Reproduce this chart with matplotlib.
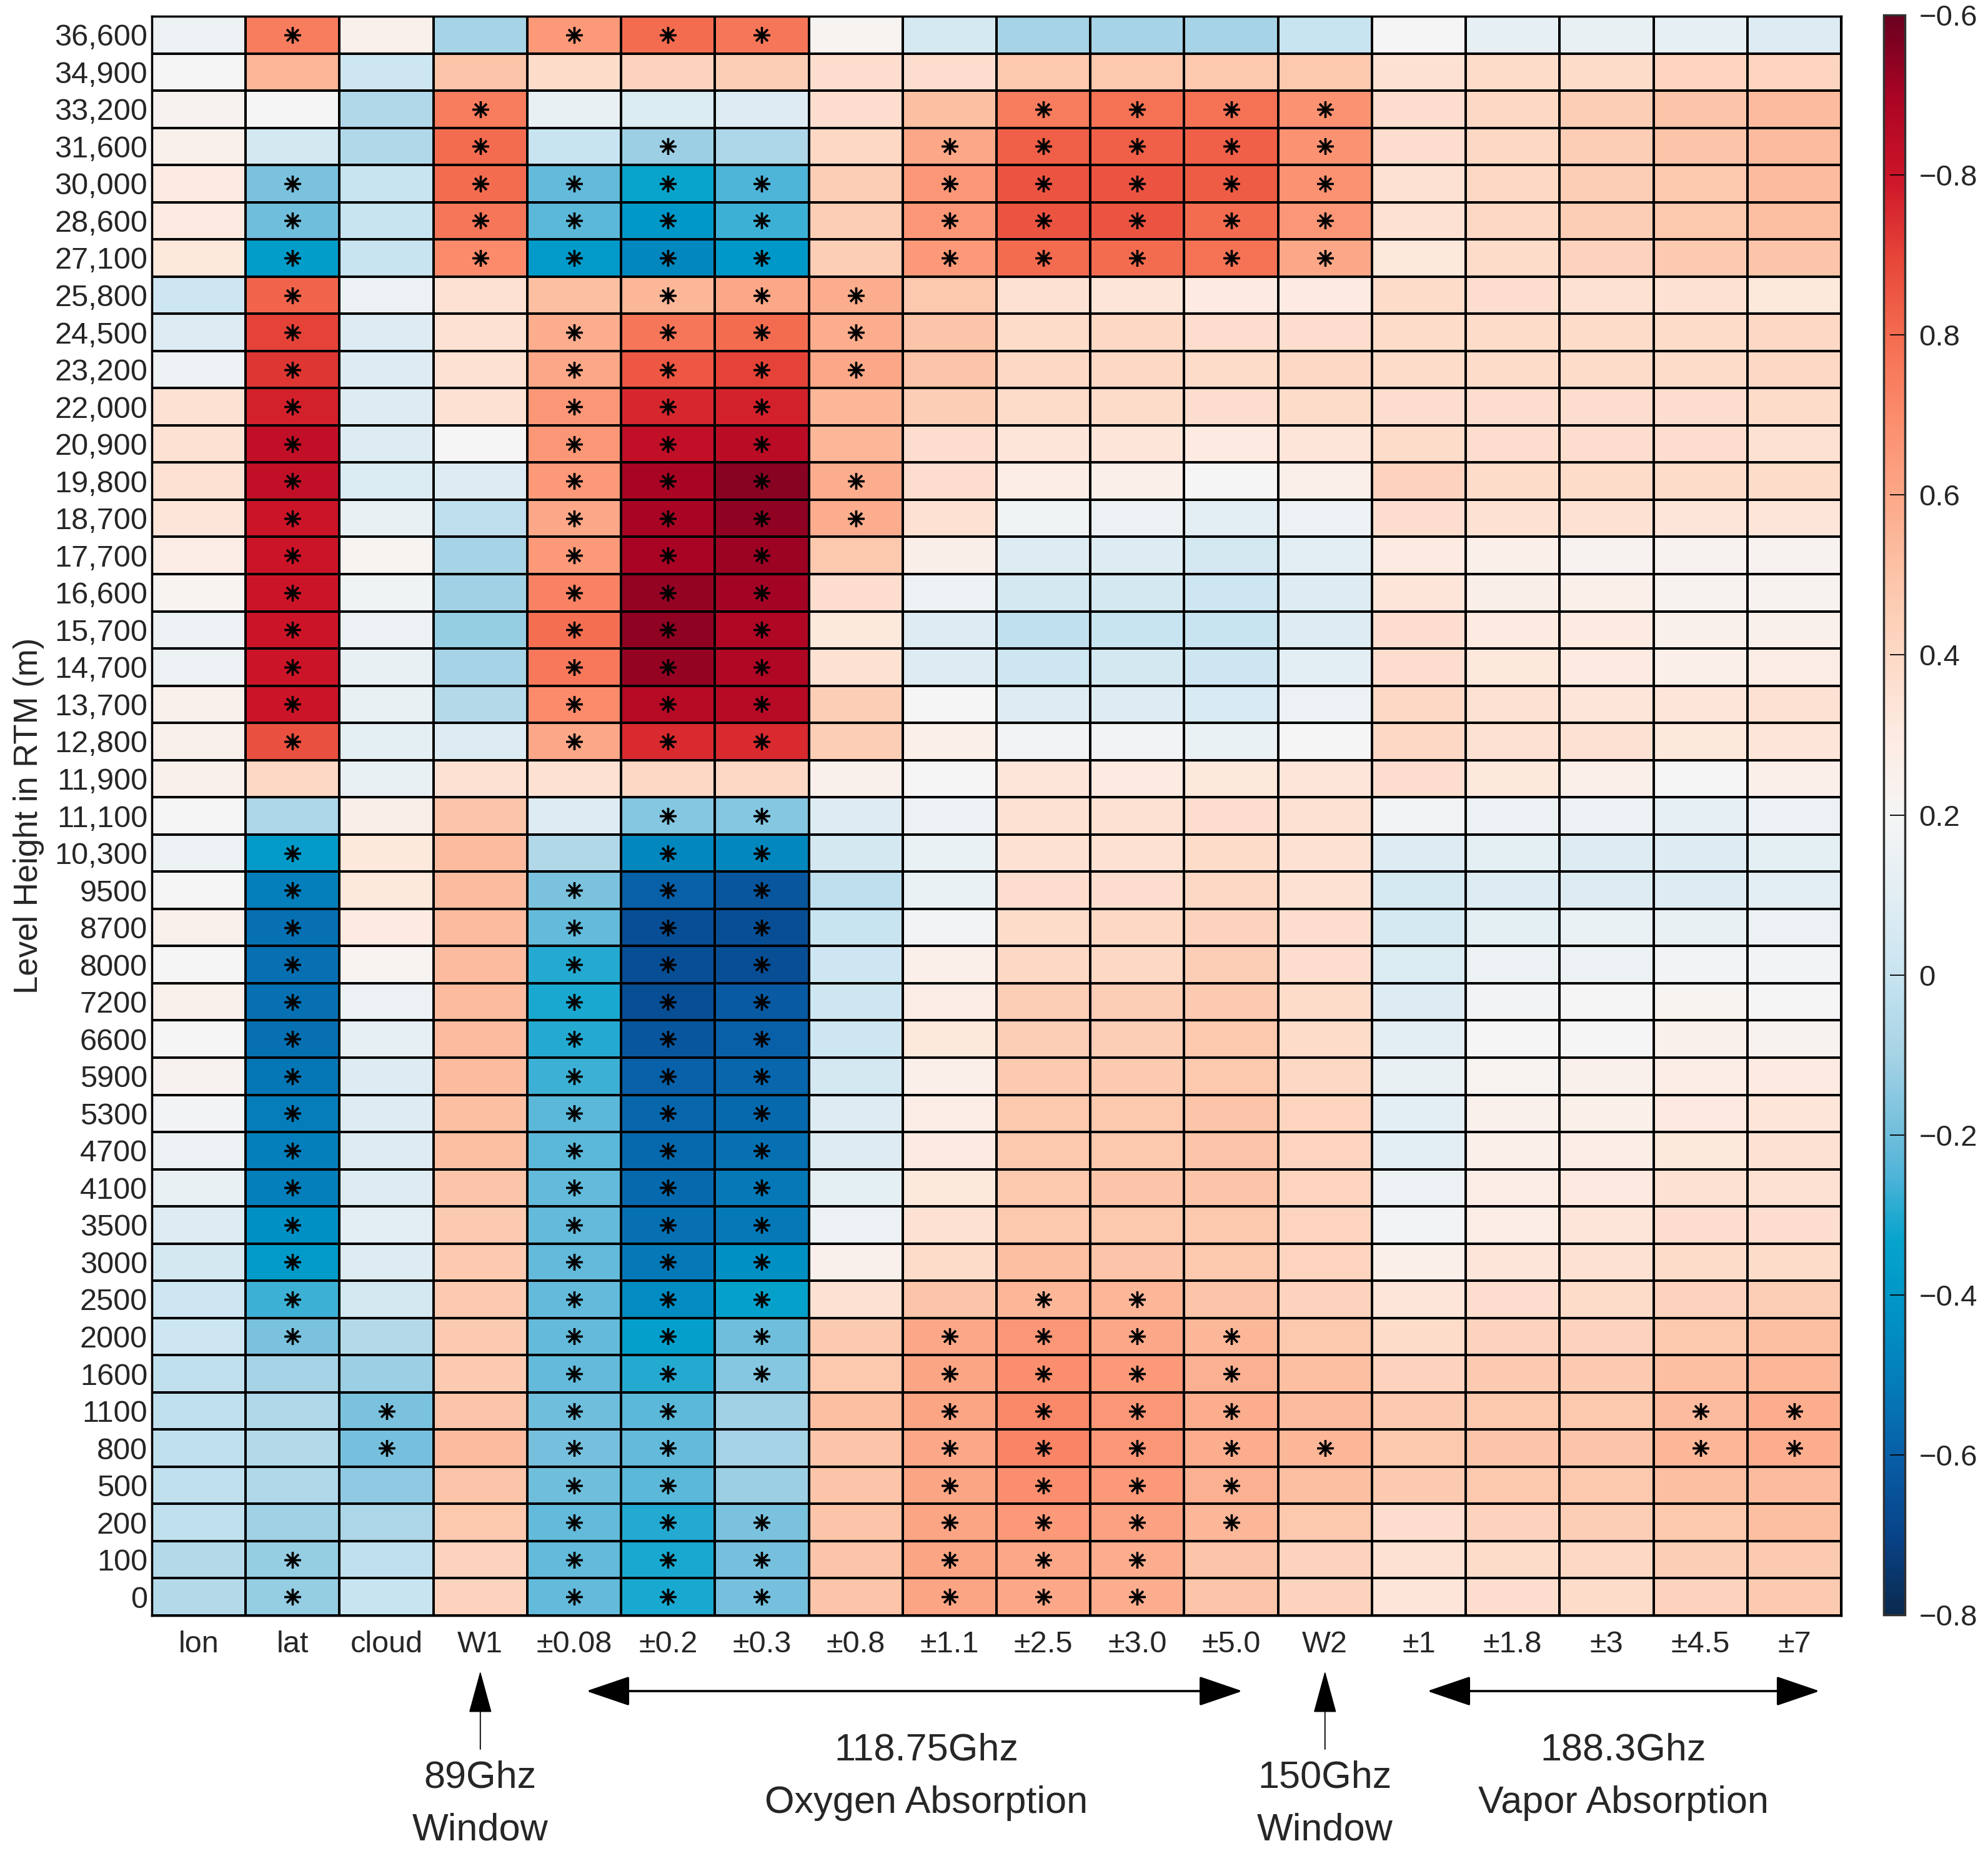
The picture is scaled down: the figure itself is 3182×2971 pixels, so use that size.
import numpy as np
import matplotlib
matplotlib.use("Agg")
import matplotlib.pyplot as plt
from matplotlib.colors import LinearSegmentedColormap, Normalize
from matplotlib.patches import FancyArrowPatch
from matplotlib.transforms import blended_transform_factory

plt.rcParams['font.family'] = ['Liberation Sans', 'DejaVu Sans']

# ---------------- data ----------------
height_labels = ["36,600", "34,900", "33,200", "31,600", "30,000", "28,600", "27,100",
                 "25,800", "24,500", "23,200", "22,000", "20,900", "19,800", "18,700",
                 "17,700", "16,600", "15,700", "14,700", "13,700", "12,800", "11,900",
                 "11,100", "10,300", "9500", "8700", "8000", "7200", "6600", "5900",
                 "5300", "4700", "4100", "3500", "3000", "2500", "2000", "1600", "1100",
                 "800", "500", "200", "100", "0"]

channel_labels = ["lon", "lat", "cloud", "W1", "±0.08", "±0.2", "±0.3", "±0.8", "±1.1",
                  "±2.5", "±3.0", "±5.0", "W2", "±1", "±1.8", "±3", "±4.5", "±7"]

# correlation values per channel, from top row (36,600) to bottom row (0)
c_lon = [0.15, 0.2, 0.23, 0.25, 0.3, 0.3, 0.32, 0.02, 0.08, 0.16, 0.35, 0.35, 0.35, 0.33,
         0.28, 0.22, 0.15, 0.15, 0.25, 0.25, 0.25, 0.2, 0.15, 0.2, 0.25, 0.2, 0.25, 0.2,
         0.23, 0.18, 0.15, 0.13, 0.08, 0.04, 0.02, 0.02, -0.02, -0.02, -0.02, -0.02, -0.02,
         -0.06, -0.06]
c_lat = [0.75, 0.55, 0.2, 0.04, -0.18, -0.2, -0.37, 0.82, 0.9, 0.93, 0.97, 1.03, 1.03, 1.0,
         1.0, 1.0, 1.0, 1.0, 1.0, 0.87, 0.4, -0.08, -0.38, -0.5, -0.55, -0.55, -0.55, -0.55,
         -0.53, -0.51, -0.5, -0.5, -0.43, -0.38, -0.27, -0.18, -0.1, -0.07, -0.06, -0.07,
         -0.11, -0.13, -0.13]
c_cloud = [0.25, 0.02, -0.07, -0.07, 0.0, 0.0, 0.0, 0.15, 0.08, 0.08, 0.08, 0.08, 0.07, 0.13,
           0.22, 0.17, 0.15, 0.13, 0.13, 0.11, 0.13, 0.27, 0.32, 0.32, 0.3, 0.22, 0.15, 0.12,
           0.08, 0.08, 0.08, 0.08, 0.1, 0.08, 0.04, -0.06, -0.12, -0.18, -0.19, -0.14, -0.08,
           -0.02, 0.0]
c_w1 = [-0.1, 0.5, 0.75, 0.8, 0.8, 0.77, 0.7, 0.35, 0.35, 0.35, 0.35, 0.2, 0.08, -0.03,
        -0.1, -0.11, -0.13, -0.1, -0.06, 0.08, 0.35, 0.5, 0.53, 0.53, 0.53, 0.53, 0.53, 0.53,
        0.53, 0.52, 0.52, 0.5, 0.47, 0.47, 0.47, 0.47, 0.47, 0.5, 0.53, 0.5, 0.48, 0.43, 0.43]
c_p008 = [0.65, 0.38, 0.13, 0.0, -0.22, -0.23, -0.38, 0.52, 0.58, 0.6, 0.66, 0.66, 0.65, 0.6,
          0.65, 0.73, 0.79, 0.76, 0.7, 0.6, 0.35, 0.08, -0.07, -0.18, -0.22, -0.3, -0.31,
          -0.3, -0.27, -0.23, -0.23, -0.22, -0.22, -0.22, -0.22, -0.22, -0.22, -0.2, -0.19,
          -0.2, -0.22, -0.22, -0.22]
c_p02 = [0.8, 0.43, 0.07, -0.12, -0.33, -0.4, -0.47, 0.55, 0.77, 0.85, 0.96, 1.03, 1.1, 1.1,
         1.1, 1.13, 1.14, 1.13, 1.06, 0.95, 0.4, -0.16, -0.47, -0.6, -0.66, -0.66, -0.66,
         -0.63, -0.6, -0.58, -0.57, -0.57, -0.55, -0.52, -0.45, -0.36, -0.3, -0.23, -0.22,
         -0.23, -0.3, -0.31, -0.31]
c_p03 = [0.77, 0.45, 0.08, -0.08, -0.25, -0.27, -0.4, 0.6, 0.8, 0.9, 0.97, 1.05, 1.15, 1.14,
         1.12, 1.11, 1.08, 1.08, 1.06, 0.95, 0.4, -0.16, -0.47, -0.63, -0.66, -0.66, -0.62,
         -0.6, -0.58, -0.57, -0.55, -0.52, -0.52, -0.43, -0.35, -0.2, -0.16, -0.11, -0.1,
         -0.12, -0.18, -0.19, -0.19]
c_p08 = [0.22, 0.37, 0.37, 0.4, 0.45, 0.45, 0.45, 0.58, 0.58, 0.6, 0.55, 0.55, 0.58, 0.58,
         0.48, 0.37, 0.32, 0.35, 0.45, 0.45, 0.25, 0.08, 0.04, -0.03, 0.0, 0.02, 0.02, 0.02,
         0.04, 0.08, 0.08, 0.11, 0.15, 0.25, 0.35, 0.47, 0.48, 0.52, 0.5, 0.5, 0.5, 0.5, 0.5]
c_p11 = [0.05, 0.37, 0.52, 0.6, 0.66, 0.66, 0.65, 0.48, 0.5, 0.5, 0.45, 0.37, 0.37, 0.35,
         0.27, 0.15, 0.08, 0.08, 0.2, 0.26, 0.2, 0.15, 0.14, 0.14, 0.18, 0.26, 0.28, 0.32,
         0.26, 0.28, 0.3, 0.32, 0.35, 0.38, 0.5, 0.6, 0.61, 0.61, 0.6, 0.61, 0.61, 0.61, 0.61]
c_p25 = [-0.1, 0.48, 0.75, 0.83, 0.86, 0.86, 0.8, 0.35, 0.38, 0.4, 0.38, 0.33, 0.28, 0.17,
         0.08, 0.04, -0.02, 0.02, 0.08, 0.18, 0.33, 0.35, 0.35, 0.37, 0.38, 0.4, 0.45, 0.45,
         0.47, 0.48, 0.48, 0.48, 0.48, 0.52, 0.55, 0.66, 0.69, 0.71, 0.72, 0.69, 0.65, 0.6, 0.6]
c_p30 = [-0.1, 0.48, 0.78, 0.83, 0.86, 0.86, 0.8, 0.33, 0.4, 0.4, 0.38, 0.33, 0.26, 0.15,
         0.08, 0.04, 0.0, 0.04, 0.08, 0.18, 0.3, 0.35, 0.35, 0.37, 0.4, 0.4, 0.45, 0.45,
         0.47, 0.48, 0.48, 0.5, 0.48, 0.5, 0.55, 0.6, 0.65, 0.66, 0.66, 0.65, 0.62, 0.58, 0.58]
c_p50 = [-0.1, 0.48, 0.78, 0.83, 0.84, 0.8, 0.78, 0.3, 0.37, 0.38, 0.37, 0.3, 0.2, 0.1,
         0.04, 0.02, 0.0, 0.02, 0.06, 0.14, 0.32, 0.37, 0.38, 0.4, 0.43, 0.45, 0.47, 0.48,
         0.48, 0.5, 0.5, 0.5, 0.48, 0.48, 0.5, 0.55, 0.57, 0.58, 0.58, 0.57, 0.55, 0.5, 0.5]
c_w2 = [0.0, 0.48, 0.68, 0.68, 0.68, 0.66, 0.6, 0.3, 0.37, 0.4, 0.38, 0.33, 0.26, 0.15,
        0.1, 0.08, 0.08, 0.1, 0.15, 0.2, 0.33, 0.35, 0.35, 0.35, 0.37, 0.37, 0.38, 0.38,
        0.4, 0.42, 0.42, 0.42, 0.42, 0.42, 0.43, 0.48, 0.52, 0.53, 0.55, 0.52, 0.48, 0.43, 0.43]
c_v1 = [0.2, 0.35, 0.37, 0.37, 0.35, 0.35, 0.32, 0.38, 0.38, 0.38, 0.37, 0.38, 0.43, 0.37,
        0.3, 0.33, 0.37, 0.37, 0.4, 0.4, 0.37, 0.18, 0.08, 0.05, 0.05, 0.07, 0.08, 0.1,
        0.13, 0.1, 0.1, 0.15, 0.18, 0.26, 0.33, 0.38, 0.43, 0.47, 0.48, 0.47, 0.37, 0.35, 0.33]
c_v18 = [0.12, 0.38, 0.4, 0.4, 0.4, 0.4, 0.38, 0.37, 0.38, 0.38, 0.37, 0.37, 0.38, 0.35,
         0.26, 0.27, 0.3, 0.32, 0.35, 0.35, 0.32, 0.15, 0.11, 0.08, 0.11, 0.15, 0.18, 0.2,
         0.22, 0.25, 0.26, 0.28, 0.28, 0.33, 0.37, 0.43, 0.47, 0.48, 0.5, 0.48, 0.43, 0.38, 0.37]
c_v3 = [0.13, 0.38, 0.45, 0.45, 0.45, 0.45, 0.43, 0.35, 0.38, 0.38, 0.37, 0.37, 0.38, 0.35,
        0.23, 0.26, 0.3, 0.3, 0.33, 0.35, 0.26, 0.15, 0.08, 0.08, 0.14, 0.15, 0.2, 0.2,
        0.25, 0.26, 0.28, 0.31, 0.33, 0.35, 0.38, 0.43, 0.47, 0.48, 0.5, 0.48, 0.45, 0.4, 0.38]
c_v45 = [0.12, 0.42, 0.5, 0.5, 0.48, 0.48, 0.47, 0.35, 0.38, 0.38, 0.37, 0.37, 0.38, 0.33,
         0.23, 0.23, 0.25, 0.26, 0.33, 0.32, 0.2, 0.12, 0.08, 0.08, 0.13, 0.18, 0.22, 0.25,
         0.28, 0.31, 0.32, 0.35, 0.37, 0.38, 0.43, 0.48, 0.52, 0.53, 0.55, 0.52, 0.48, 0.45, 0.43]
c_v7 = [0.08, 0.42, 0.53, 0.53, 0.53, 0.52, 0.5, 0.32, 0.4, 0.4, 0.38, 0.35, 0.38, 0.33,
        0.23, 0.23, 0.25, 0.28, 0.35, 0.33, 0.26, 0.15, 0.11, 0.1, 0.15, 0.18, 0.2, 0.23,
        0.3, 0.33, 0.35, 0.35, 0.37, 0.38, 0.45, 0.52, 0.55, 0.58, 0.58, 0.53, 0.52, 0.47, 0.47]

# rows (0 = top, 36,600 m) marked with a significance star, per channel
m_lon = []
m_lat = [0, 4, 5, 6, 7, 8, 9, 10, 11, 12, 13, 14, 15, 16, 17, 18, 19,
         22, 23, 24, 25, 26, 27, 28, 29, 30, 31, 32, 33, 34, 35, 41, 42]
m_cloud = [37, 38]
m_w1 = [2, 3, 4, 5, 6]
m_p008 = [0, 4, 5, 6, 8, 9, 10, 11, 12, 13, 14, 15, 16, 17, 18, 19,
          23, 24, 25, 26, 27, 28, 29, 30, 31, 32, 33, 34, 35, 36, 37, 38, 39, 40, 41, 42]
m_p02 = [0, 3, 4, 5, 6, 7, 8, 9, 10, 11, 12, 13, 14, 15, 16, 17, 18, 19,
         21, 22, 23, 24, 25, 26, 27, 28, 29, 30, 31, 32, 33, 34, 35, 36, 37, 38, 39, 40, 41, 42]
m_p03 = [0, 4, 5, 6, 7, 8, 9, 10, 11, 12, 13, 14, 15, 16, 17, 18, 19,
         21, 22, 23, 24, 25, 26, 27, 28, 29, 30, 31, 32, 33, 34, 35, 36, 40, 41, 42]
m_p08 = [7, 8, 9, 12, 13]
m_p11 = [3, 4, 5, 6, 35, 36, 37, 38, 39, 40, 41, 42]
m_p25 = [2, 3, 4, 5, 6, 34, 35, 36, 37, 38, 39, 40, 41, 42]
m_p30 = [2, 3, 4, 5, 6, 34, 35, 36, 37, 38, 39, 40, 41, 42]
m_p50 = [2, 3, 4, 5, 6, 35, 36, 37, 38, 39, 40]
m_w2 = [2, 3, 4, 5, 6, 38]
m_v1 = []
m_v18 = []
m_v3 = []
m_v45 = [37, 38]
m_v7 = [37, 38]

columns = [c_lon, c_lat, c_cloud, c_w1, c_p008, c_p02, c_p03, c_p08, c_p11, c_p25,
           c_p30, c_p50, c_w2, c_v1, c_v18, c_v3, c_v45, c_v7]
marks = [m_lon, m_lat, m_cloud, m_w1, m_p008, m_p02, m_p03, m_p08, m_p11, m_p25,
         m_p30, m_p50, m_w2, m_v1, m_v18, m_v3, m_v45, m_v7]

cbar_ticks = [-0.8, -0.6, -0.4, -0.2, 0.0, 0.2, 0.4, 0.6, 0.8, 1.0, 1.2]
cbar_ticklabels = ["\u22120.8", "\u22120.6", "\u22120.4", "\u22120.2", "0", "0.2", "0.4",
                   "0.6", "0.8", "\u22120.8", "\u22120.6"]

# ---------------- build matrix ----------------
Z = np.array(columns, dtype=float).T          # rows x cols
nrows, ncols = Z.shape
star_r, star_c = [], []
for j, m in enumerate(marks):
    for i in m:
        star_r.append(i + 0.5)
        star_c.append(j + 0.5)

# colormap
vmin, vmax = -0.8, 1.2
nodes = [(-0.8, "#0b2a4f"), (-0.7, "#08448a"), (-0.6, "#0860a8"), (-0.5, "#0480bc"),
         (-0.4, "#0098c8"), (-0.33, "#08a4cc"), (-0.25, "#50b4d8"), (-0.2, "#70bedc"),
         (-0.1, "#a6d3e6"), (0.0, "#c8e4f0"), (0.1, "#e2eef3"), (0.2, "#f5f5f5"),
         (0.3, "#fdebe2"), (0.4, "#fdd9c5"), (0.5, "#fcc4a8"), (0.6, "#fca888"),
         (0.7, "#fb8c6c"), (0.8, "#f46c50"), (0.9, "#e64438"), (1.0, "#cc1428"),
         (1.1, "#aa0424"), (1.2, "#6a0020")]
cmap = LinearSegmentedColormap.from_list(
    "rb", [((v - vmin) / (vmax - vmin), c) for v, c in nodes], N=512)
norm = Normalize(vmin=vmin, vmax=vmax)

# ---------------- figure ----------------
W, H = 3182, 2971
fig = plt.figure(figsize=(W / 100, H / 100), dpi=100)


def fx(px):
    return px / W


def fy(py):
    return 1 - py / H


ax = fig.add_axes([fx(243), fy(2586), fx(2947) - fx(243), fy(26) - fy(2586)])
mesh = ax.pcolormesh(np.arange(ncols + 1), np.arange(nrows + 1), Z, cmap=cmap, norm=norm,
                     edgecolors="black", linewidth=1.6)
ax.set_xlim(0, ncols)
ax.set_ylim(nrows, 0)
ax.plot(star_c, star_r, linestyle="none", marker=(8, 2, 0), markersize=19,
        markeredgewidth=2.4, color="black")

tcol = "#262626"
ax.set_xticks(np.arange(ncols) + 0.5)
ax.set_xticklabels(channel_labels, fontsize=35, color=tcol)
ax.set_yticks(np.arange(nrows) + 0.5)
ax.set_yticklabels(height_labels, fontsize=35, color=tcol)
ax.tick_params(axis="both", length=0)
ax.tick_params(axis="x", pad=17)
ax.tick_params(axis="y", pad=5)
for s in ax.spines.values():
    s.set_linewidth(2.5)
    s.set_color("black")

fig.text(fx(46), fy(1306), "Level Height in RTM (m)", rotation=90, fontsize=38,
         color=tcol, ha="center", va="center")

# colour bar
cax = fig.add_axes([fx(3015), fy(2585), fx(3049) - fx(3015), fy(24) - fy(2585)])
cb = fig.colorbar(mesh, cax=cax, ticks=cbar_ticks)
cb.ax.set_yticklabels(cbar_ticklabels, fontsize=34, color=tcol)
cb.ax.tick_params(direction="in", length=17, width=1.3, pad=16, colors="black",
                  labelcolor=tcol)
cb.outline.set_linewidth(2.5)
cb.outline.set_edgecolor("#303030")

# ---------------- band annotations ----------------
tr = blended_transform_factory(ax.transData, fig.transFigure)


def up_arrow(xc):
    a = FancyArrowPatch((xc, fy(2800)), (xc, fy(2675)), transform=tr,
                        arrowstyle="-|>,head_length=44,head_width=12", mutation_scale=1,
                        lw=1.3, color="black", shrinkA=0, shrinkB=0, clip_on=False)
    fig.add_artist(a)


def double_arrow(x0, x1):
    a = FancyArrowPatch((x0, fy(2707)), (x1, fy(2707)), transform=tr,
                        arrowstyle="<|-|>,head_length=44,head_width=15", mutation_scale=1,
                        lw=2.6, color="black", shrinkA=0, shrinkB=0, clip_on=False)
    fig.add_artist(a)


up_arrow(3.5)
up_arrow(12.5)
double_arrow(4.63, 11.62)
double_arrow(13.59, 17.77)

afs = 44
band_texts = [(3.5, 2861, "89Ghz"), (3.5, 2946, "Window"),
              (12.5, 2861, "150Ghz"), (12.5, 2946, "Window"),
              (8.25, 2818, "118.75Ghz"), (8.25, 2902, "Oxygen Absorption"),
              (15.68, 2818, "188.3Ghz"), (15.68, 2902, "Vapor Absorption")]
for xd, yp, txt in band_texts:
    fig.text(xd, fy(yp), txt, transform=tr, fontsize=afs, ha="center",
             va="baseline", color=tcol)

fig.savefig("out.png", dpi=100, facecolor="white")
